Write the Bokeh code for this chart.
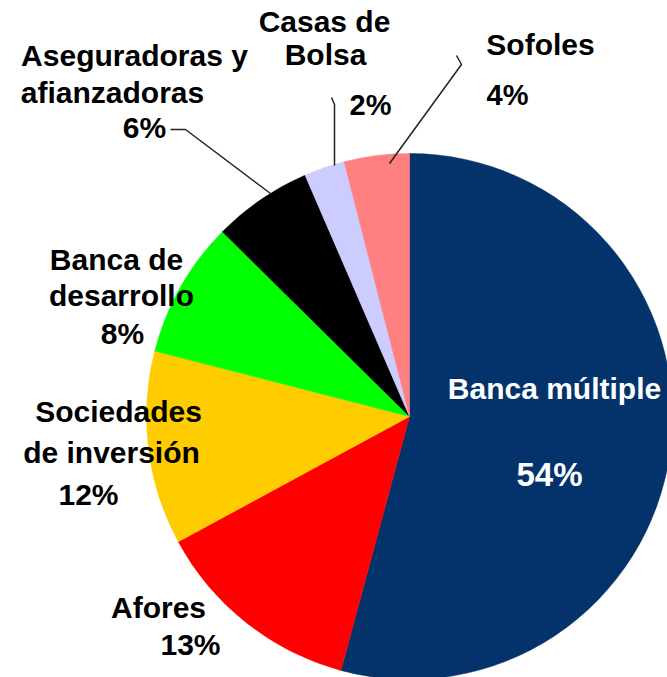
import numpy as np
from bokeh.plotting import figure
from bokeh.models import Range1d, ColumnDataSource
from bokeh.core.properties import value
from bokeh.embed import file_html
from bokeh.resources import INLINE

# ---- data (clockwise from 12 o'clock) ----
categories = ["Banca múltiple", "Afores", "Sociedades de inversión", "Banca de desarrollo",
              "Aseguradoras y afianzadoras", "Casas de Bolsa", "Sofoles"]
shares = [54.2, 12.9, 11.9, 8.4, 6.1, 2.5, 4.0]
pct_labels = ["54%", "13%", "12%", "8%", "6%", "2%", "4%"]
colors = ["#03336A", "#FF0000", "#FFCC00", "#00FF00", "#000000", "#CCCCFF", "#FF8080"]

# ---- layout (screen pixels from the picture's top-left) ----
W, H = 667, 677
TXT_SHIFT = 11  # baseline correction for the text glyph
def Y(sy):
    return H - sy

CX, CY, R = 409, 416, 263

label_layout = {
    0: (["Banca múltiple"], [(554, 399)], (549, 485), "white", "33px"),
    1: (["Afores"], [(158, 618)], (190, 655), "black", "30px"),
    2: (["Sociedades", "de inversión"], [(118, 422), (111, 463)], (88, 505), "black", "30px"),
    3: (["Banca de", "desarrollo"], [(116, 270), (121, 306)], (122, 344), "black", "30px"),
    4: (["Aseguradoras y", "afianzadoras"], [(134, 66), (112, 103)], (144, 138), "black", "30px"),
    5: (["Casas de", "Bolsa"], [(324, 32), (325, 65)], (370, 115), "black", "29px"),
    6: (["Sofoles"], [(540, 55)], (507, 105), "black", "29px"),
}

leaders = [
    [(170, 129), (185, 129), (270, 193)],
    [(331, 97), (334, 104), (334, 165)],
    [(456, 55), (461, 64), (389, 163)],
]

p = figure(width=W, height=H, output_backend="svg", toolbar_location=None,
           x_range=Range1d(0, W), y_range=Range1d(0, H), min_border=0)
p.axis.visible = False
p.grid.visible = False
p.outline_line_color = None
p.background_fill_color = "white"
p.border_fill_color = "white"

vals = np.array(shares, dtype=float)
frac = vals / vals.sum()
cum = np.cumsum(frac)
f0 = cum - frac
f1 = cum
start = np.pi / 2 - 2 * np.pi * f1
end = np.pi / 2 - 2 * np.pi * f0

src = ColumnDataSource(dict(x=[CX] * len(vals), y=[Y(CY)] * len(vals),
                            start=start, end=end, color=colors, name=categories))
p.wedge(x="x", y="y", radius=R, start_angle="start", end_angle="end",
        fill_color="color", line_color="color", line_width=0.5, source=src)

p.multi_line(xs=[[pt[0] for pt in l] for l in leaders],
             ys=[[Y(pt[1]) for pt in l] for l in leaders],
             line_color="#222222", line_width=1.5)

tx, ty, tt, tc, ts = [], [], [], [], []
for i, (lines, pos, ppos, col, psize) in label_layout.items():
    for t, (x, y) in zip(lines, pos):
        tx.append(x); ty.append(Y(y - TXT_SHIFT)); tt.append(t); tc.append(col); ts.append("30px")
    tx.append(ppos[0]); ty.append(Y(ppos[1] - TXT_SHIFT)); tt.append(pct_labels[i]); tc.append(col)
    ts.append(psize)

tsrc = ColumnDataSource(dict(x=tx, y=ty, text=tt, color=tc, size=ts))
p.text(x="x", y="y", text="text", text_color="color", source=tsrc,
       text_font=value("Liberation Sans"), text_font_size="size",
       text_font_style="bold", text_align="center", text_baseline="alphabetic")

open("out.html", "w").write(file_html(p, INLINE))
